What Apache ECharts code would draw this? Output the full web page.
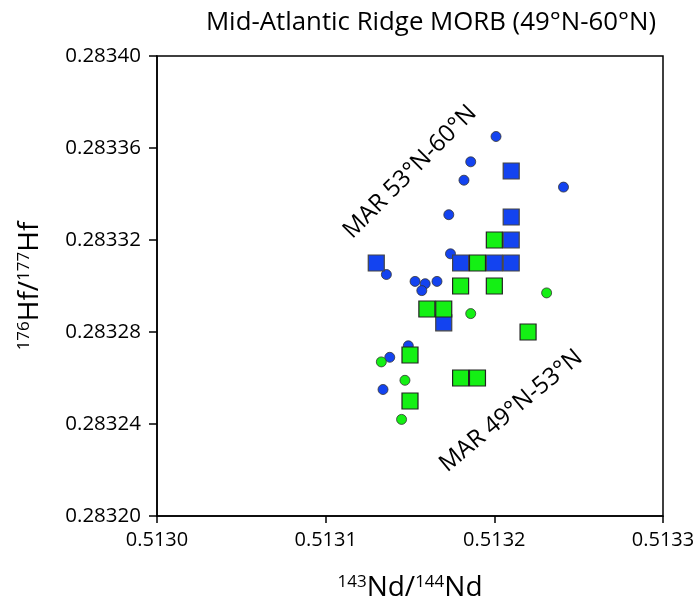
<!DOCTYPE html>
<html>
<head>
<meta charset="utf-8">
<script src="https://cdn.jsdelivr.net/npm/echarts@6/dist/echarts.min.js"></script>
<style>
html, body { margin: 0; padding: 0; background: #fff; }
#chart { width: 694px; height: 605px; }
</style>
</head>
<body>
<div id="chart"></div>
<script>
var chart = echarts.init(document.getElementById('chart'));

// MAR 53N-60N (blue)
var blueSquareNd = [0.51321, 0.51321, 0.51321, 0.51313, 0.51318, 0.51320, 0.51321, 0.51317];
var blueSquareHf = [0.28335, 0.28333, 0.28332, 0.28331, 0.28331, 0.28331, 0.28331, 0.283284];
var blueCircleNd = [0.513201, 0.513186, 0.513182, 0.513241, 0.513173, 0.513174, 0.513136, 0.513153,
	0.513159, 0.513166, 0.513157, 0.513171, 0.513149, 0.513138, 0.513134];
var blueCircleHf = [0.283365, 0.283354, 0.283346, 0.283343, 0.283331, 0.283314, 0.283305, 0.283302,
	0.283301, 0.283302, 0.283298, 0.283286, 0.283274, 0.283269, 0.283255];

// MAR 49N-53N (green)
var greenSquareNd = [0.51320, 0.51319, 0.51318, 0.51320, 0.51316, 0.51317, 0.51322, 0.51315, 0.51318, 0.51319, 0.51315];
var greenSquareHf = [0.28332, 0.28331, 0.28330, 0.28330, 0.28329, 0.28329, 0.28328, 0.28327, 0.28326, 0.28326, 0.28325];
var greenCircleNd = [0.513231, 0.513186, 0.513133, 0.513147, 0.513145];
var greenCircleHf = [0.283297, 0.283288, 0.283267, 0.283259, 0.283242];

var xTicks = [0.5130, 0.5131, 0.5132, 0.5133];
var yTicks = [0.28320, 0.28324, 0.28328, 0.28332, 0.28336, 0.28340];

var BLUE = '#1343f0';
var GREEN = '#14f014';
var FONT = '"Open Sans", "Noto Sans", sans-serif';

function zip(a, b) {
	var out = [];
	for (var i = 0; i < a.length; i++) {
		out.push([a[i], b[i]]);
	}
	return out;
}

// axis name with superscript mass numbers
var nameStyle = {
	fontFamily: FONT,
	fontSize: 28,
	color: '#000',
	rich: {
		sup: { fontFamily: FONT, fontSize: 17, verticalAlign: 'top', padding: [0, 0, 12, 0], color: '#000' }
	}
};

var option = {
	backgroundColor: '#fff',
	animation: false,
	title: {
		text: 'Mid-Atlantic Ridge MORB (49°N-60°N)',
		left: 426,
		textAlign: 'center',
		top: 5,
		textStyle: { fontFamily: FONT, fontSize: 25.8, fontWeight: 'normal', color: '#000' }
	},
	grid: {
		left: 157,
		right: 31,
		top: 56,
		bottom: 89,
		outerBoundsMode: 'none',
		containLabel: false,
		show: true,
		borderColor: '#000',
		borderWidth: 1.5
	},
	xAxis: {
		type: 'value',
		min: xTicks[0],
		max: xTicks[xTicks.length - 1],
		interval: 0.0001,
		name: '{sup|143}Nd/{sup|144}Nd',
		nameLocation: 'middle',
		nameGap: 58,
		nameTextStyle: nameStyle,
		axisLine: { onZero: false, lineStyle: { color: '#000', width: 1.5 } },
		axisTick: { length: 7, lineStyle: { color: '#000', width: 1.5 } },
		axisLabel: {
			fontFamily: FONT, fontSize: 20, color: '#000', margin: 14,
			formatter: function (v) { return v.toFixed(4); }
		},
		splitLine: { show: false }
	},
	yAxis: {
		type: 'value',
		min: yTicks[0],
		max: yTicks[yTicks.length - 1],
		interval: 0.00004,
		name: '{sup|176}Hf/{sup|177}Hf',
		nameLocation: 'middle',
		nameGap: 112,
		nameTextStyle: nameStyle,
		axisLine: { onZero: false, lineStyle: { color: '#000', width: 1.5 } },
		axisTick: { length: 8, lineStyle: { color: '#000', width: 1.5 } },
		axisLabel: {
			fontFamily: FONT, fontSize: 20.5, color: '#000', margin: 16,
			formatter: function (v) { return v.toFixed(5); }
		},
		splitLine: { show: false }
	},
	graphic: [{
		type: 'text',
		x: 410,
		y: 172,
		rotation: Math.PI / 4,
		style: {
			text: 'MAR 53°N-60°N',
			fontFamily: FONT, fontSize: 24, fill: '#000',
			align: 'center', verticalAlign: 'middle'
		}
	}, {
		type: 'text',
		x: 511,
		y: 411,
		rotation: Math.PI * 0.22,
		style: {
			text: 'MAR 49°N-53°N',
			fontFamily: FONT, fontSize: 24, fill: '#000',
			align: 'center', verticalAlign: 'middle'
		}
	}],
	series: [{
		type: 'scatter',
		symbol: 'circle',
		symbolSize: 10,
		itemStyle: { color: BLUE, opacity: 1, borderColor: '#333', borderWidth: 0.8 },
		data: zip(blueCircleNd, blueCircleHf)
	}, {
		type: 'scatter',
		symbol: 'rect',
		symbolSize: 16,
		itemStyle: { color: BLUE, opacity: 1, borderColor: '#444', borderWidth: 1.2 },
		data: zip(blueSquareNd, blueSquareHf)
	}, {
		type: 'scatter',
		symbol: 'circle',
		symbolSize: 10,
		itemStyle: { color: GREEN, opacity: 1, borderColor: '#333', borderWidth: 0.8 },
		data: zip(greenCircleNd, greenCircleHf)
	}, {
		type: 'scatter',
		symbol: 'rect',
		symbolSize: 16,
		itemStyle: { color: GREEN, opacity: 1, borderColor: '#222', borderWidth: 1.2 },
		data: zip(greenSquareNd, greenSquareHf)
	}]
};

chart.setOption(option);
</script>
</body>
</html>
